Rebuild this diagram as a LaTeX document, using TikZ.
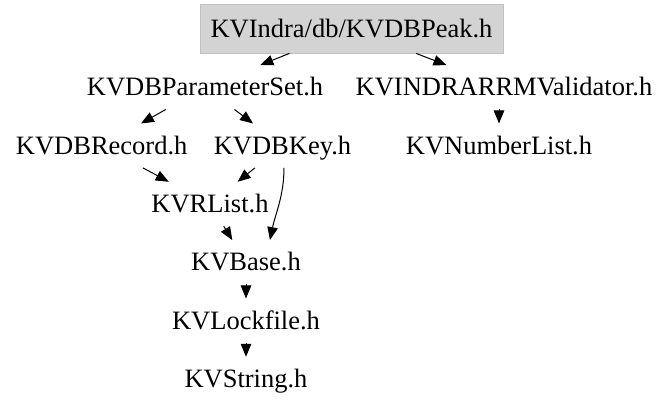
\documentclass[tikz,border=0pt]{standalone}
\usepackage{fontspec}
\setmainfont{Liberation Serif}
\usetikzlibrary{arrows.meta}
\definecolor{boxfill}{HTML}{D3D3D3}
\definecolor{boxline}{HTML}{C0C0C0}
\begin{document}
\begin{tikzpicture}[x=1pt,y=-1pt,
  file/.style={font=\fontsize{26.5}{30}\selectfont, inner sep=0pt,
    text height=17.4pt, text depth=0pt, minimum height=44pt},
  rootfile/.style={file, minimum width=303pt, minimum height=49pt,
    fill=boxfill, draw=boxline, line width=0.8pt},
  dep/.style={line width=1pt, -{Triangle[length=13pt,width=10.5pt]}}]
  \useasboundingbox (0,0) rectangle (665,411);

  % include graph nodes
  \node[rootfile] (peak) at (351.5,28.5) {KVIndra/db/KVDBPeak.h};
  \node[file] (pset)  at (205,87.3)   {KVDBParameterSet.h};
  \node[file] (valid) at (504,87.3)   {KVINDRARRMValidator.h};
  \node[file] (rec)   at (101.7,145.7) {KVDBRecord.h};
  \node[file] (key)   at (282.5,145.7) {KVDBKey.h};
  \node[file] (nlist) at (499,145.7)  {KVNumberList.h};
  \node[file] (rlist) at (210,204)    {KVRList.h};
  \node[file] (base)  at (246,262.3)  {KVBase.h};
  \node[file] (lock)  at (246,320.7)  {KVLockfile.h};
  \node[file] (str)   at (246,379)    {KVString.h};

  % include edges
  \draw[dep] (peak) -- (pset);
  \draw[dep] (peak) -- (valid);
  \draw[dep] (pset) -- (rec);
  \draw[dep] (pset) -- (key);
  \draw[dep] (valid.south -| nlist.north) -- (nlist.north);
  \draw[dep] (rec) -- (rlist);
  \draw[dep] (key) -- (rlist);
  \draw[dep] ([xshift=1.5pt]key.south) .. controls +(0,28) and +(5,-25) .. ([xshift=24pt]base.north);
  \draw[dep] (rlist) -- (base);
  \draw[dep] (base) -- (lock);
  \draw[dep] (lock) -- (str);
\end{tikzpicture}
\end{document}
